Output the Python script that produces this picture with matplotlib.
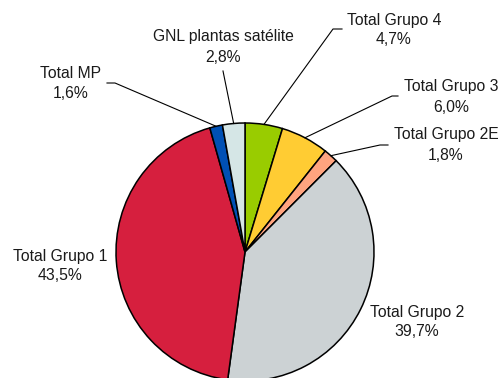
import matplotlib.pyplot as plt
import numpy as np

plt.rcParams['font.family'] = ['Liberation Sans', 'DejaVu Sans']

labels = ['Total Grupo 4', 'Total Grupo 3', 'Total Grupo 2E', 'Total Grupo 2',
          'Total Grupo 1', 'Total MP', 'GNL plantas satélite']
shares = [4.7, 6.0, 1.8, 39.7, 43.5, 1.6, 2.8]
colors = ['#99CC00', '#FFCC33', '#FFA47F', '#CCD2D4', '#D61F3E', '#0050B4', '#D5E6E6']

W, H = 503, 378
cx, cy, r = 245, H - 252, 129

# label centre (x, y in px from top) and leader elbow/end points (None = no leader)
label_pos = [(394, 30), (451, 97), (446, 145), (417, 322), (60, 266), (71, 84), (223, 47)]
elbows = [((333, 29), (342, 29)), ((392, 96), (398, 96)), ((380, 145), (388, 145)),
          None, None, ((115, 83), (107, 83)), ((223, 71), (223, 71))]

fig = plt.figure(figsize=(W / 100, H / 100), dpi=100)
ax = fig.add_axes([0, 0, 1, 1])

wedges, _ = ax.pie(shares, colors=colors, startangle=90, counterclock=False,
                   center=(cx, cy), radius=r,
                   wedgeprops=dict(edgecolor='black', linewidth=1.1))
ax.set_xlim(0, W)
ax.set_ylim(0, H)
ax.set_aspect('equal')
ax.axis('off')

for w, name, val, (lx, ly), el in zip(wedges, labels, shares, label_pos, elbows):
    ax.text(lx, H - ly + 10, name, ha='center', va='center', fontsize=11.3, color='#1a1a1a')
    ax.text(lx, H - ly - 10, f'{val:.1f}%'.replace('.', ','), ha='center', va='center',
            fontsize=11.3, color='#1a1a1a')
    if el is None:
        continue
    mid = np.deg2rad((w.theta1 + w.theta2) / 2)
    px, py = cx + r * np.cos(mid), cy + r * np.sin(mid)
    (ex, ey), (tx, ty) = el
    ax.plot([px, ex, tx], [py, H - ey, H - ty], color='black', lw=0.8)

fig.savefig('out.png', dpi=100)
